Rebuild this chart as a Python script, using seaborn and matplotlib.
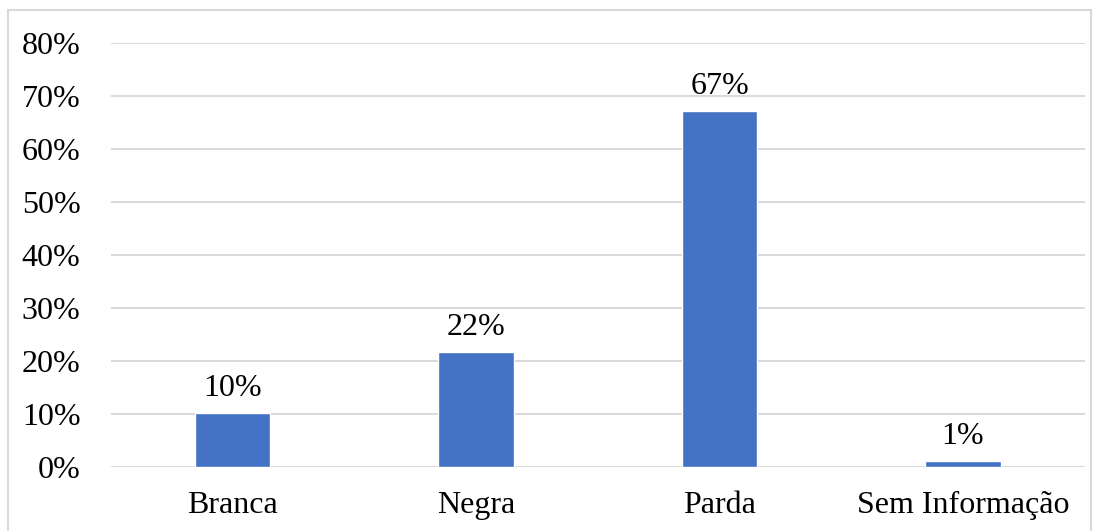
import matplotlib
matplotlib.use('Agg')
import matplotlib.pyplot as plt
import seaborn as sns
import pandas as pd
from matplotlib.ticker import PercentFormatter
from matplotlib.patches import Rectangle

categorias = ['Branca', 'Negra', 'Parda', 'Sem Informação']
valores = [0.102, 0.217, 0.672, 0.011]

df = pd.DataFrame({'cat': categorias, 'val': valores})

sns.set_style('white')
plt.rcParams['font.family'] = ['Liberation Serif', 'DejaVu Serif']
plt.rcParams['text.color'] = 'black'

fig = plt.figure(figsize=(10.99, 5.31), dpi=100)
ax = fig.add_axes([0.101, 0.1205, 0.886, 0.7985])

sns.barplot(data=df, x='cat', y='val', color='#4472C4', saturation=1, width=0.31, ax=ax, zorder=3)

ax.set_ylim(0, 0.8)
ax.set_yticks([i / 10 for i in range(9)])
ax.yaxis.set_major_formatter(PercentFormatter(1.0, decimals=0))
ax.grid(axis='y', color='#d9d9d9', linewidth=1.4, zorder=0)
ax.set_axisbelow(True)
for s in ax.spines.values():
    s.set_visible(False)
ax.set_xlabel('')
ax.set_ylabel('')
ax.tick_params(axis='both', length=0, labelsize=23, colors='black')
ax.tick_params(axis='y', pad=22)
ax.tick_params(axis='x', pad=17)

for c in ax.containers:
    ax.bar_label(c, labels=[f'{v:.0%}' for v in valores], padding=7, fontsize=23, color='black')

fig.patches.append(Rectangle((8 / 1099, -0.05), 1083 / 1099, 1 - 10 / 531 + 0.05,
                             transform=fig.transFigure, fill=False,
                             edgecolor='#d9d9d9', linewidth=1.5))

fig.savefig('out.png', dpi=100, facecolor='white')
